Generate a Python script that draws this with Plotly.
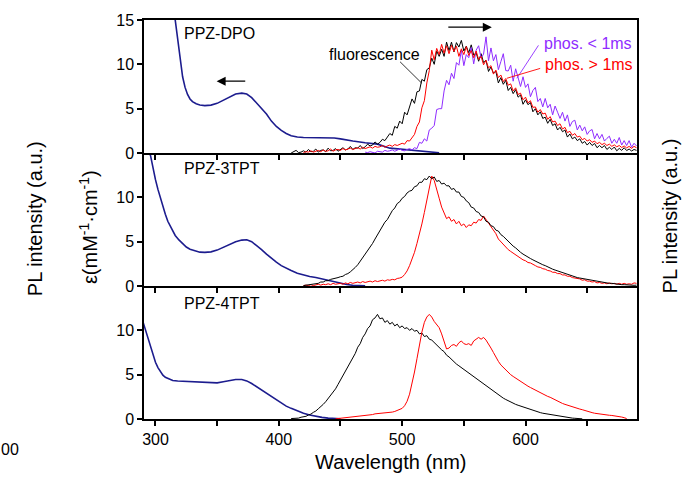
import numpy as np
import plotly.graph_objects as go

# ---------------- absorption spectra (wavelength nm, epsilon mM^-1 cm^-1) ----------------
abs_dpo_nm = [310, 313, 316, 318, 320, 322, 324, 326, 328, 330, 333, 336, 340, 345, 350, 355,
              360, 365, 370, 374, 378, 382, 386, 390, 394, 398, 402, 406, 410, 415, 420, 430,
              440, 445, 450, 455, 460, 470, 480, 490, 500, 510, 520, 530]
abs_dpo_eps = [22.0, 17.5, 15.0, 12.8, 10.3, 8.6, 7.4, 6.6, 6.1, 5.8, 5.55, 5.42, 5.35, 5.4, 5.6, 5.95,
               6.35, 6.65, 6.75, 6.65, 6.25, 5.6, 5.0, 4.4, 3.6, 3.0, 2.55, 2.2, 1.95, 1.8, 1.75, 1.75,
               1.72, 1.7, 1.6, 1.45, 1.35, 1.15, 1.0, 0.55, 0.4, 0.25, 0.1, 0.03]

abs_3tpt_nm = [292, 294, 296, 298, 300, 302, 304, 306, 308, 310, 313, 316, 319, 322, 325, 328, 332,
               336, 340, 345, 350, 355, 360, 365, 370, 374, 378, 382, 386, 390, 394, 398, 402, 406,
               410, 415, 420, 425, 430, 435, 440, 445, 450, 455, 460, 470]
abs_3tpt_eps = [17.0, 15.5, 14.7, 13.2, 12.0, 10.9, 9.9, 9.0, 8.1, 7.3, 6.4, 5.7, 5.2, 4.75, 4.4, 4.15,
                3.95, 3.82, 3.8, 3.85, 4.05, 4.35, 4.7, 5.0, 5.18, 5.22, 5.0, 4.6, 4.1, 3.6, 3.1, 2.7,
                2.3, 2.0, 1.75, 1.45, 1.25, 1.08, 0.95, 0.78, 0.6, 0.45, 0.3, 0.17, 0.08, 0.02]

abs_4tpt_nm = [290, 292, 294, 296, 298, 300, 302, 304, 306, 308, 311, 314, 318, 322, 326, 330, 335,
               340, 345, 350, 355, 360, 365, 370, 374, 378, 382, 386, 390, 394, 398, 402, 406, 410,
               415, 420, 425, 430, 435, 440, 445, 450]
abs_4tpt_eps = [10.9, 10.0, 9.0, 8.1, 7.2, 6.4, 5.8, 5.3, 4.95, 4.7, 4.5, 4.35, 4.28, 4.25, 4.25, 4.22,
                4.15, 4.1, 4.05, 4.08, 4.2, 4.35, 4.45, 4.45, 4.3, 4.0, 3.65, 3.3, 2.95, 2.55, 2.15,
                1.8, 1.45, 1.2, 0.9, 0.65, 0.45, 0.3, 0.18, 0.1, 0.05, 0.02]

# ---------------- PL spectra, sampled every PL_STEP nm from the given start ----------------
PL_STEP = 2

dpo_fl_start = 410
dpo_fl = [0.0, 0.15, 0.3, 0.05, 0.1, 0.25, 0.1, 0.4, 0.15, 0.2, 0.45, 0.1, 0.3, 0.35, 0.15, 0.55,
          0.25, 0.3, 0.5, 0.2, 0.4, 0.6, 0.35, 0.45, 0.75, 0.4, 0.6, 0.55, 0.85, 0.5, 0.7, 1.0,
          0.8, 0.9, 1.25, 1.0, 1.2, 1.55, 1.4, 1.75,
          2.2, 2.0, 3.0, 2.8, 3.6, 3.3, 4.6, 4.3, 5.1, 6.1,
          5.6, 6.9, 7.0, 8.3, 8.1, 9.4, 9.6, 10.7, 10.0, 11.5,
          10.9, 11.7, 10.9, 12.5, 11.55, 12.5, 11.4, 12.45, 11.95, 12.7,
          11.5, 12.05, 11.3, 12.2, 11.05, 11.3, 10.35, 11.2, 10.2, 10.45,
          9.2, 9.7, 9.0, 9.2, 7.9, 8.5, 7.75, 8.2, 7.05, 7.4,
          6.7, 7.15, 6.3, 6.55, 5.5, 6.0, 5.45, 5.7, 4.65, 5.0,
          4.3, 4.65, 3.9, 4.05, 3.35, 3.8, 3.1, 3.3, 2.6, 2.9,
          2.4, 2.6, 1.8, 2.15, 1.6, 1.8, 1.4, 1.6, 1.1, 1.3,
          0.9, 1.2, 0.85, 1.08, 0.6, 0.85, 0.6, 0.85, 0.4, 0.65,
          0.4, 0.68, 0.25, 0.52, 0.3, 0.6, 0.28, 0.45, 0.23, 0.4,
          0.3]

dpo_phos_long_start = 420
dpo_phos_long = [0.05, 0.15, 0.1, 0.25, 0.1, 0.2, 0.3, 0.15, 0.35, 0.2, 0.25, 0.45, 0.2, 0.35, 0.4, 0.3,
                 0.5, 0.35, 0.45, 0.55, 0.4, 0.5, 0.6, 0.45, 0.65, 0.5, 0.6, 0.7, 0.55, 0.75, 0.65, 0.7,
                 0.85, 0.65, 0.8, 0.9, 0.75, 0.95, 0.85, 1.0,
                 1.1, 1.0, 1.4, 1.35, 1.8, 2.1, 3.0, 3.5, 5.1, 5.9,
                 7.9, 9.3, 11.6, 10.5, 11.8, 11.1, 12.25, 11.25, 12.1, 11.2,
                 12.15, 11.45, 12.05, 10.9, 11.75, 11.1, 12.0, 11.0, 11.55, 10.75,
                 11.5, 10.55, 10.9, 9.95, 10.45, 9.6, 9.85, 8.9, 9.35, 8.5,
                 8.8, 8.05, 8.4, 7.65, 7.8, 7.0, 7.35, 6.6, 6.75, 6.0,
                 6.3, 5.65, 5.9, 5.15, 5.2, 4.6, 4.9, 4.4, 4.5, 3.8,
                 4.1, 3.5, 3.6, 3.1, 3.3, 2.7, 2.9, 2.3, 2.45, 2.0,
                 2.2, 1.8, 1.9, 1.5, 1.65, 1.35, 1.5, 1.2, 1.35, 1.05,
                 1.2, 0.95, 1.1, 0.85, 1.0, 0.75, 0.92, 0.7, 0.85, 0.62,
                 0.8, 0.58, 0.75, 0.52, 0.75, 0.6]

dpo_phos_short_start = 470
dpo_phos_short = [0.1, 0.05, 0.15, 0.1, 0.0, 0.2, 0.15, 0.1, 0.3, 0.2,
                  0.25, 0.35, 0.2, 0.3, 0.45, 0.3, 0.25, 0.4, 0.5, 0.35,
                  0.6, 0.5, 1.2, 1.1, 1.6, 1.35, 2.6, 2.8, 3.1, 4.9,
                  5.0, 5.0, 7.0, 8.2, 7.7, 9.0, 8.4, 10.2, 9.9, 11.6,
                  9.85, 11.1, 10.75, 11.9, 10.05, 11.6, 12.1, 10.7, 11.15, 13.1,
                  10.4, 11.85, 10.4, 11.1, 9.4, 10.3, 11.2, 9.3, 9.25, 9.9,
                  8.1, 9.5, 8.4, 7.5, 8.6, 7.4, 7.8, 6.35, 7.05, 7.4,
                  5.8, 6.15, 5.2, 6.15, 5.1, 5.5, 4.3, 5.3, 4.6, 3.9,
                  4.6, 3.6, 4.3, 3.0, 3.55, 3.7, 2.6, 3.15, 2.5, 2.95,
                  2.1, 2.5, 2.65, 1.6, 2.2, 1.6, 2.1, 1.35, 1.65, 1.9,
                  1.1, 1.55, 1.1, 1.75, 0.9, 1.4, 0.85, 1.4, 0.65, 1.1,
                  0.8]

tpt3_fl_start = 420
tpt3_fl = [0.05, 0.1, 0.1, 0.2, 0.2, 0.3, 0.3, 0.45, 0.45, 0.6, 0.6, 0.75, 0.8, 0.9, 0.95, 1.05,
           1.1, 1.3, 1.4, 1.6, 1.8, 2.1, 2.4, 2.8, 3.1, 3.5, 3.9, 4.4, 4.8, 5.3, 5.8, 6.2,
           6.7, 7.2, 7.5, 8.0, 8.5, 8.8, 9.3, 9.5, 9.9, 10.1, 10.5, 10.7, 10.8, 11.2, 11.3, 11.7,
           11.7, 12.1, 12.0, 12.4, 12.1, 12.3, 11.8, 11.9, 11.5, 11.6, 11.3, 11.3, 10.9, 11.0, 10.6, 10.6,
           10.1, 10.0, 9.6, 9.4, 8.9, 8.8, 8.4, 8.3, 7.9, 7.8, 7.3, 7.2, 6.8, 6.7, 6.3, 6.2,
           5.8, 5.6, 5.3, 5.0, 4.8, 4.5, 4.3, 4.0, 3.8, 3.6, 3.4, 3.25, 3.1, 2.95, 2.8, 2.65,
           2.5, 2.4, 2.3, 2.15, 2.05, 1.9, 1.8, 1.7, 1.6, 1.5, 1.4, 1.3, 1.2, 1.1, 1.05, 0.95,
           0.9, 0.85, 0.8, 0.75, 0.7, 0.6, 0.6, 0.5, 0.5, 0.45, 0.4, 0.35, 0.3, 0.3, 0.25, 0.22,
           0.2, 0.15, 0.15, 0.12, 0.1, 0.1, 0.08, 0.1]

tpt3_phos_start = 420
tpt3_phos = [0.05, 0.1, 0.05, 0.15, 0.05, 0.1, 0.2, 0.1, 0.2, 0.15, 0.25, 0.15, 0.3, 0.2, 0.25, 0.3,
             0.2, 0.35, 0.25, 0.4, 0.3, 0.35, 0.45, 0.35, 0.5, 0.4, 0.45, 0.55, 0.45, 0.6, 0.5, 0.6,
             0.65, 0.55, 0.7, 0.65, 0.75, 0.7, 0.85, 0.9, 1.0, 1.3, 1.7, 2.3, 3.0, 3.8, 4.8, 5.8,
             7.0, 8.3, 9.6, 11.0, 12.4, 11.9, 11.0, 9.9, 8.9, 8.2, 7.6, 7.8, 7.3, 7.5, 7.0, 7.3,
             6.8, 7.0, 6.6, 6.9, 6.8, 7.2, 7.1, 7.5, 7.4, 7.9, 7.5, 7.0, 6.7, 6.3, 5.9, 5.3,
             5.0, 4.6, 4.4, 4.1, 3.9, 3.7, 3.5, 3.3, 3.15, 2.95, 2.85, 2.65, 2.6, 2.4, 2.3, 2.15,
             2.1, 1.95, 1.9, 1.75, 1.7, 1.55, 1.55, 1.4, 1.4, 1.25, 1.25, 1.1, 1.1, 0.95, 0.9, 0.8,
             0.8, 0.65, 0.7, 0.55, 0.55, 0.45, 0.5, 0.35, 0.4, 0.3, 0.35, 0.25, 0.35, 0.25, 0.3, 0.2,
             0.3, 0.2, 0.3, 0.2, 0.25, 0.2, 0.35, 0.3]

tpt4_fl_start = 410
tpt4_fl = [0.05, 0.05, 0.1, 0.1, 0.2, 0.25, 0.3, 0.45, 0.55, 0.75, 0.9, 1.15, 1.35, 1.65, 1.95, 2.3,
           2.6, 3.0, 3.4, 3.9, 4.4, 4.8, 5.4, 5.8, 6.4, 6.9, 7.4, 8.1, 8.5, 9.2, 9.6, 10.2,
           10.5, 11.2, 11.4, 11.8, 11.3, 11.4, 10.9, 11.1, 10.7, 10.9, 10.5, 10.7, 10.3, 10.5, 10.2, 10.3,
           10.0, 10.2, 9.9, 10.0, 9.6, 9.7, 9.3, 9.4, 9.0, 8.9, 8.6, 8.4, 8.1, 7.8, 7.6, 7.2,
           7.0, 6.7, 6.5, 6.2, 6.0, 5.8, 5.6, 5.3, 5.1, 4.9, 4.7, 4.5, 4.3, 4.1, 3.9, 3.7,
           3.5, 3.3, 3.1, 2.9, 2.7, 2.5, 2.35, 2.2, 2.05, 1.9, 1.8, 1.65, 1.55, 1.45, 1.35, 1.25,
           1.15, 1.05, 0.95, 0.87, 0.8, 0.72, 0.65, 0.6, 0.54, 0.48, 0.43, 0.38, 0.33, 0.29, 0.25, 0.21,
           0.17, 0.13, 0.1, 0.08, 0.05, 0.03, 0.02]

tpt4_phos_start = 446
tpt4_phos = [0.02, 0.05, 0.08, 0.1, 0.12, 0.15, 0.2, 0.22, 0.28, 0.3,
             0.35, 0.4, 0.42, 0.45, 0.5, 0.5, 0.58, 0.6, 0.62, 0.68,
             0.65, 0.72, 0.75, 0.78, 0.85, 0.95, 1.1, 1.2, 1.5, 2.0,
             2.8, 4.0, 5.3, 6.8, 8.4, 9.8, 10.9, 11.5, 11.8, 11.5,
             11.0, 10.7, 10.3, 9.6, 8.7, 7.9, 8.0, 8.3, 8.4, 8.2,
             8.6, 8.8, 8.5, 8.4, 8.5, 8.3, 8.8, 9.0, 9.2, 9.0,
             9.2, 8.9, 8.5, 8.0, 7.5, 6.9, 6.5, 6.1, 5.8, 5.5,
             5.2, 5.0, 4.8, 4.6, 4.4, 4.25, 4.05, 3.9, 3.7, 3.55,
             3.4, 3.25, 3.1, 2.95, 2.85, 2.7, 2.55, 2.45, 2.3, 2.2,
             2.05, 1.9, 1.75, 1.65, 1.55, 1.45, 1.38, 1.3, 1.2, 1.12,
             1.05, 0.95, 0.88, 0.8, 0.72, 0.65, 0.6, 0.56, 0.52, 0.48,
             0.45, 0.42, 0.4, 0.37, 0.32, 0.28, 0.22, 0.15, 0.05]

# axis tick values
x_tickvals = [300, 350, 400, 450, 500, 550, 600, 650]
x_ticktext = ["300", "", "400", "", "500", "", "600", ""]

# ---------------- styling ----------------
FONT = "Liberation Sans, Arial, sans-serif"
C_ABS = "#1c1c8e"
C_FL = "#000000"
C_PHOS = "#ff0000"
C_SHORT = "#8f2cff"
X_RANGE = [290.7, 690.4]


def grid(start, vals):
    return start + PL_STEP * np.arange(len(vals))


fig = go.Figure()

# panel -> (xaxis, yaxis)
TOP = ("x3", "y3")
MID = ("x2", "y2")
BOT = ("x", "y")


def add_line(ax, x, y, color, width):
    fig.add_trace(go.Scatter(x=x, y=y, mode="lines", xaxis=ax[0], yaxis=ax[1],
                             line=dict(color=color, width=width), showlegend=False,
                             hoverinfo="skip"))


# PPZ-DPO
add_line(TOP, abs_dpo_nm, abs_dpo_eps, C_ABS, 1.6)
add_line(TOP, grid(dpo_fl_start, dpo_fl), dpo_fl, C_FL, 1.0)
add_line(TOP, grid(dpo_phos_short_start, dpo_phos_short), dpo_phos_short, C_SHORT, 1.0)
add_line(TOP, grid(dpo_phos_long_start, dpo_phos_long), dpo_phos_long, C_PHOS, 1.0)

# PPZ-3TPT
add_line(MID, abs_3tpt_nm, abs_3tpt_eps, C_ABS, 1.6)
add_line(MID, grid(tpt3_phos_start, tpt3_phos), tpt3_phos, C_PHOS, 1.0)
add_line(MID, grid(tpt3_fl_start, tpt3_fl), tpt3_fl, C_FL, 1.0)

# PPZ-4TPT
add_line(BOT, abs_4tpt_nm, abs_4tpt_eps, C_ABS, 1.6)
add_line(BOT, grid(tpt4_fl_start, tpt4_fl), tpt4_fl, C_FL, 1.0)
add_line(BOT, grid(tpt4_phos_start, tpt4_phos), tpt4_phos, C_PHOS, 1.0)

tickfont = dict(family=FONT, size=16, color="black")


def xaxis(anchor, labels, mirror=False, matches=None):
    d = dict(range=X_RANGE, anchor=anchor, showline=True, linecolor="black", linewidth=1.5,
             mirror=mirror, ticks="outside", ticklen=5, tickwidth=1.5, tickcolor="black",
             tickmode="array", tickvals=x_tickvals, ticktext=x_ticktext,
             showticklabels=labels, showgrid=False, zeroline=False, tickfont=tickfont)
    if matches:
        d["matches"] = matches
    return d


def yaxis(domain, tickvals, anchor):
    return dict(domain=domain, range=[0, 15], anchor=anchor, showline=True, linecolor="black",
                linewidth=1.5, mirror=True, ticks="outside", ticklen=5, tickwidth=1.5,
                tickcolor="black", tickmode="array", tickvals=tickvals, showgrid=False,
                zeroline=False, tickfont=tickfont)


fig.update_layout(
    width=693, height=479,
    margin=dict(l=144, r=56, t=16, b=60),
    paper_bgcolor="white", plot_bgcolor="white",
    font=dict(family=FONT, size=16, color="black"),
    xaxis=xaxis("y", True),
    xaxis2=xaxis("y2", False, matches="x"),
    xaxis3=xaxis("y3", False, mirror=True, matches="x"),
    yaxis=yaxis([0, 0.3333], [0, 5, 10], "x"),
    yaxis2=yaxis([0.3333, 0.6666], [0, 5, 10], "x2"),
    yaxis3=yaxis([0.6666, 1], [0, 5, 10, 15], "x3"),
)

ann = []
# panel names
for name, yy in (("PPZ-DPO", 0.966), ("PPZ-3TPT", 0.629), ("PPZ-4TPT", 0.289)):
    ann.append(dict(text=name, xref="paper", yref="paper", x=0.078, y=yy, xanchor="left",
                    yanchor="middle", showarrow=False, font=dict(size=16)))

# axis titles
ann.append(dict(text="Wavelength (nm)", xref="paper", yref="paper", x=0.5, y=-0.109,
                xanchor="center", yanchor="middle", showarrow=False, font=dict(size=20)))
ann.append(dict(text="PL intensity (a.u.)", xref="paper", yref="paper", x=-0.221, y=0.501,
                textangle=-90, xanchor="center", yanchor="middle", showarrow=False,
                font=dict(size=20)))
ann.append(dict(text="ε(mM<sup>-1</sup>·cm<sup>-1</sup>)", xref="paper", yref="paper",
                x=-0.1136, y=0.481, textangle=-90, xanchor="center", yanchor="middle",
                showarrow=False, font=dict(size=20)))
ann.append(dict(text="PL intensity (a.u.)", xref="paper", yref="paper", x=1.066, y=0.509,
                textangle=-90, xanchor="center", yanchor="middle", showarrow=False,
                font=dict(size=20)))
ann.append(dict(text="00", xref="paper", yref="paper", x=-0.294, y=-0.077, xanchor="left",
                yanchor="middle", showarrow=False, font=dict(size=16)))

# series labels
ann.append(dict(text="fluorescence", xref="x3", yref="y3", x=439, y=11.1, xanchor="left",
                yanchor="middle", showarrow=False, font=dict(size=16, color=C_FL)))
ann.append(dict(text="phos. &lt; 1ms", xref="x3", yref="y3", x=613.3, y=12.4, xanchor="left",
                yanchor="middle", showarrow=False, font=dict(size=16, color=C_SHORT)))
ann.append(dict(text="phos. &gt; 1ms", xref="x3", yref="y3", x=614.3, y=10.0, xanchor="left",
                yanchor="middle", showarrow=False, font=dict(size=16, color=C_PHOS)))

# direction arrows (absorption -> left axis, emission -> right axis)
ann.append(dict(text="", xref="x3", yref="y3", axref="x3", ayref="y3", x=349.6, y=8.1,
                ax=374, ay=8.1, showarrow=True, arrowhead=2, arrowsize=1.5, arrowwidth=1.2,
                arrowcolor="black"))
ann.append(dict(text="", xref="x3", yref="y3", axref="x3", ayref="y3", x=572.7, y=14.19,
                ax=536.2, ay=14.19, showarrow=True, arrowhead=2, arrowsize=1.5, arrowwidth=1.2,
                arrowcolor="black"))
fig.update_layout(annotations=ann)

# leader lines from labels to curves
shapes = [
    dict(type="line", xref="x3", yref="y3", x0=498.3, y0=10.29, x1=515.9, y1=7.87,
         line=dict(color=C_FL, width=0.8)),
    dict(type="line", xref="x3", yref="y3", x0=610.5, y0=12.14, x1=593.0, y1=8.43,
         line=dict(color=C_SHORT, width=0.9)),
    dict(type="line", xref="x3", yref="y3", x0=611.9, y0=9.54, x1=584.9, y1=8.43,
         line=dict(color=C_PHOS, width=0.9)),
]
fig.update_layout(shapes=shapes)

fig.write_html("out.html")
